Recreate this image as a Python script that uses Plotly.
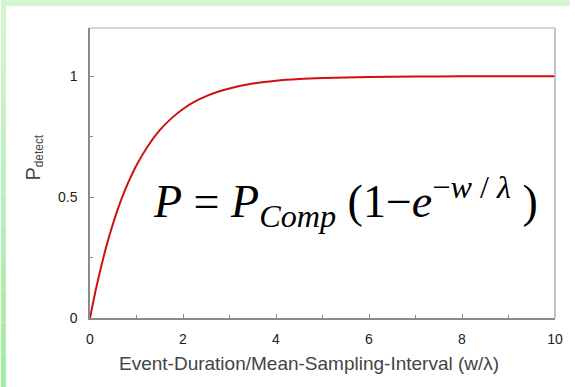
import plotly.graph_objects as go

# Data
ratio = [0, 0.125, 0.25, 0.375, 0.5, 0.625, 0.75, 0.875, 1.0, 1.25, 1.5, 1.75, 2.0, 2.25, 2.5, 2.75, 3.0,
         3.5, 4.0, 4.5, 5.0, 6.0, 7.0, 8.0, 9.0, 10.0]
p_detect = [0, 0.118, 0.22, 0.313, 0.393, 0.465, 0.528, 0.583, 0.632, 0.713, 0.777, 0.826, 0.865, 0.895,
            0.918, 0.936, 0.95, 0.97, 0.982, 0.989, 0.993, 0.997, 0.999, 1.0, 1.0, 1.0]
x_ticks = [0, 2, 4, 6, 8, 10]
y_ticks = [0, 0.5, 1]
y_tick_labels = ["0", "0.5", "1"]
x_title = "Event-Duration/Mean-Sampling-Interval (w/λ)"

W, H = 575, 387
L, R, T, B = 90, 15, 28, 69
pw, ph = W - L - R, H - T - B

def px_x(px):
    return (px - L) / pw

def px_y(py):
    return 1 - (py - T) / ph

fig = go.Figure()
fig.add_trace(go.Scatter(x=ratio, y=p_detect, mode="lines",
                         line=dict(color="#d01010", width=2, shape="spline", smoothing=0.6),
                         hoverinfo="skip", showlegend=False))

shapes = []
# top green strip
shapes.append(dict(type="rect", xref="paper", yref="paper", x0=px_x(0), x1=px_x(W),
                   y0=px_y(6), y1=px_y(0), fillcolor="#d3f6d3", line=dict(width=0), layer="below"))
# left green strip with vertical gradient
n = 12
c_top = (0xd3, 0xf6, 0xd3)
c_bot = (0xa4, 0xea, 0xa4)
for i in range(n):
    t = (i + 0.5) / n
    c = tuple(int(c_top[k] + (c_bot[k] - c_top[k]) * t) for k in range(3))
    shapes.append(dict(type="rect", xref="paper", yref="paper", x0=px_x(0), x1=px_x(5),
                       y0=px_y(H * (i + 1) / n), y1=px_y(H * i / n),
                       fillcolor="rgb(%d,%d,%d)" % c, line=dict(width=0), layer="below"))
# top and right frame lines (lighter)
shapes.append(dict(type="line", xref="paper", yref="paper", x0=0, x1=1, y0=1, y1=1,
                   line=dict(color="#c8c8c8", width=1.5)))
shapes.append(dict(type="line", xref="paper", yref="paper", x0=1, x1=1, y0=0, y1=1,
                   line=dict(color="#b0b0b0", width=1.5)))

fig.update_layout(
    width=W, height=H,
    margin=dict(l=L, r=R, t=T, b=B),
    paper_bgcolor="white", plot_bgcolor="white",
    shapes=shapes,
    font=dict(family="Liberation Sans, Arial", color="#333333"),
    xaxis=dict(range=[0, 10], tickvals=x_ticks, showgrid=False, zeroline=False,
               showline=True, linecolor="#8a8a8a", linewidth=1.5,
               ticks="inside", ticklen=4, tickcolor="#8a8a8a",
               minor=dict(dtick=1, ticks="inside", ticklen=3, tickcolor="#8a8a8a"),
               tickfont=dict(size=14, color="#222222"), ticklabelstandoff=7),
    yaxis=dict(range=[0, 1.2], tickvals=y_ticks, ticktext=y_tick_labels,
               showgrid=False, zeroline=False,
               showline=True, linecolor="#8a8a8a", linewidth=1.5,
               ticks="inside", ticklen=4, tickcolor="#8a8a8a",
               minor=dict(tickvals=[0.25, 0.75], ticks="inside", ticklen=3, tickcolor="#8a8a8a"),
               tickfont=dict(size=14, color="#222222"), ticklabelstandoff=8),
    annotations=[
        dict(xref="paper", yref="paper", x=px_x(152), y=px_y(201), xanchor="left", yanchor="middle",
             showarrow=False,
             text="<i>P</i> = <i>P</i><sub><i>Comp</i></sub> (1−<i>e</i><sup>−<i>w</i> / <i>λ</i></sup> )",
             font=dict(family="Liberation Serif, Times New Roman", size=46, color="black")),
        dict(xref="paper", yref="paper", x=px_x(33), y=px_y(158), xanchor="center", yanchor="middle",
             showarrow=False, textangle=-90,
             text="<span style='font-size:20px'>P</span><sub>detect</sub>",
             font=dict(size=17, color="#444444")),
        dict(xref="paper", yref="paper", x=px_x(311), y=px_y(363), xanchor="center", yanchor="middle",
             showarrow=False, text=x_title,
             font=dict(size=19, color="#444444")),
    ],
)

fig.write_html("out.html", post_script="document.body.style.margin='0';",
               config={"displayModeBar": False})
